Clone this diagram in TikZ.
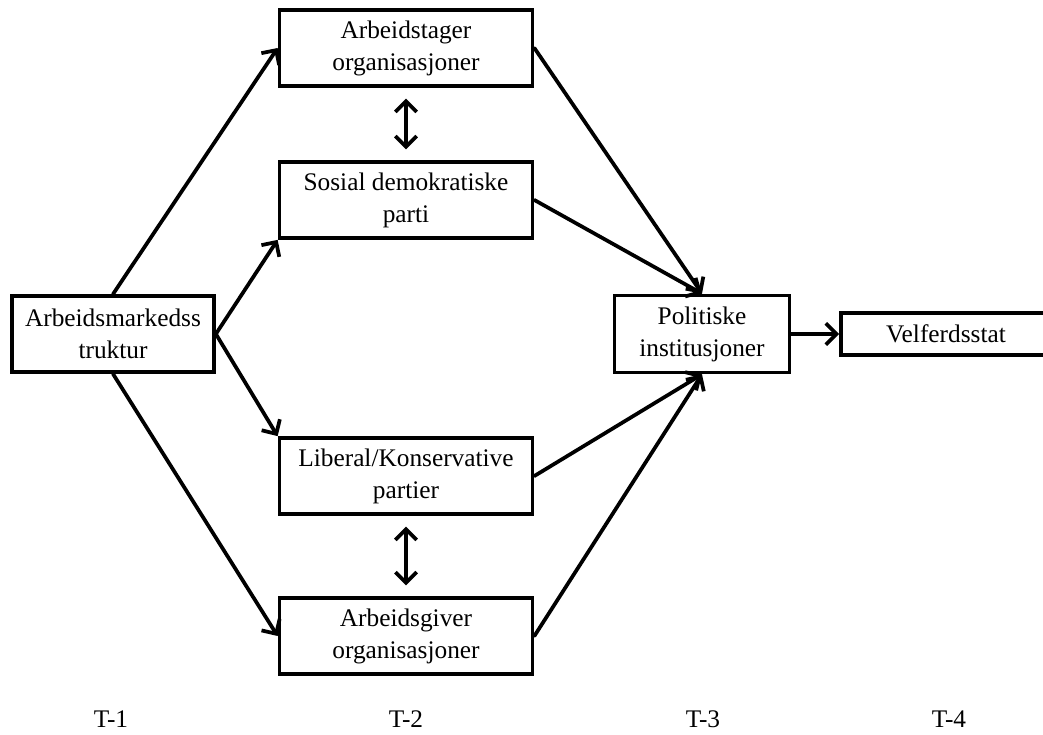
\documentclass[tikz,border=0pt]{standalone}
\usepackage{fontspec}
\setmainfont{Liberation Serif}
\usetikzlibrary{arrows.meta}

\begin{document}
\begin{tikzpicture}[x=0.75pt,y=-0.75pt,
  box/.style={draw, line width=2.8pt, inner sep=0pt, align=center,
    minimum height=57pt, font=\fontsize{19}{24}\selectfont},
  arr/.style={draw, line width=2.8pt, line cap=round,
    -{Straight Barb[length=8pt,width=16pt]}},
  darr/.style={draw, line width=2.8pt, line cap=round,
    {Straight Barb[length=8pt,width=16pt]}-{Straight Barb[length=8pt,width=16pt]},
    shorten <=8pt, shorten >=8pt},
  tlabel/.style={anchor=base, font=\fontsize{19}{24}\selectfont}]
\useasboundingbox (0,0) rectangle (1043,735);

\node[box, minimum width=151.5pt] (ams) at (113,334) {Arbeidsmarkedss\\truktur};
\node[box, minimum width=189.75pt] (ao) at (406,48) {Arbeidstager\\organisasjoner};
\node[box, minimum width=189.75pt] (sd) at (406,200) {Sosial demokratiske\\parti};
\node[box, minimum width=189.75pt] (lk) at (406,476) {Liberal/Konservative\\partier};
\node[box, minimum width=189.75pt] (ag) at (406,636) {Arbeidsgiver\\organisasjoner};
\node[box, minimum width=131.25pt, minimum height=57.75pt] (pi) at (702,334) {Politiske\\institusjoner};
\node[box, minimum width=157.5pt, minimum height=31.5pt] (vs) at (946,334) {Velferdsstat};

\node[tlabel] (t1) at (111,727) {T-1};
\node[tlabel] (t2) at (406,727) {T-2};
\node[tlabel] (t3) at (703,727) {T-3};
\node[tlabel] (t4) at (949,727) {T-4};

\path[arr] (ams.north) -- (ao.west);
\path[arr] (ams.east) -- (sd.south west);
\path[arr] (ams.east) -- (lk.north west);
\path[arr] (ams.south) -- (ag.west);
\path[darr] (ao.south) -- (sd.north);
\path[darr] (lk.south) -- (ag.north);
\path[arr] (ao.east) -- (pi.north);
\path[arr] (sd.east) -- (pi.north);
\path[arr] (lk.east) -- (pi.south);
\path[arr] (ag.east) -- (pi.south);
\path[arr] (pi.east) -- (vs.west);
\end{tikzpicture}
\end{document}
